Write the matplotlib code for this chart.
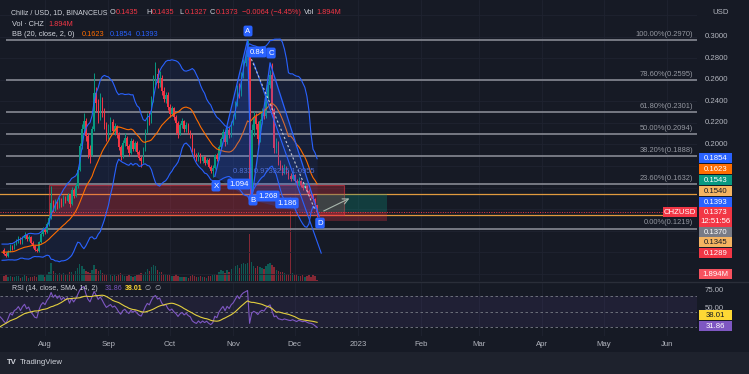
import numpy as np
import pandas as pd
import matplotlib
matplotlib.use("Agg")
import matplotlib.pyplot as plt
import matplotlib.dates as mdates
import matplotlib.transforms as mtrans
from matplotlib.patches import Rectangle, Polygon
from matplotlib.lines import Line2D

plt.rcParams['font.family'] = ['Liberation Sans', 'DejaVu Sans']

W, H = 749, 374
BG = '#161a25'
GREEN = '#089981'
RED = '#f23645'
BLUE = '#2962ff'
ORANGE = '#ff6d00'
TXT = '#d1d4dc'
GREY = '#b2b5be'

# ---- data (CHZ/USD daily, 2022-07-12 .. 2022-12-12) ----
# closes before the first visible candle, only used to warm up BB / RSI
warmup_close = [0.0981, 0.0953, 0.0972, 0.1008, 0.1041, 0.0993, 0.0962, 0.0931, 0.0948, 0.0979,
                0.1016, 0.1057, 0.1038, 0.0996, 0.0968, 0.0987, 0.1029, 0.1064, 0.1047, 0.1021]

close = [
    0.0985, 0.0962, 0.1004, 0.1052, 0.1031, 0.1078, 0.1093,
    0.1124, 0.1085, 0.1131, 0.1162, 0.1118, 0.1139, 0.1087,
    0.1058, 0.1021, 0.1012, 0.1096, 0.1168, 0.1209, 0.1187,
    0.1262, 0.1318, 0.1452, 0.1395, 0.1463, 0.1421, 0.1492,
    0.1438, 0.1506, 0.1472, 0.1528, 0.1451, 0.1579, 0.1524,
    0.1612, 0.1764, 0.1983, 0.2147, 0.2218, 0.2081, 0.1962,
    0.1903, 0.2142, 0.2481, 0.2383, 0.2262, 0.2414, 0.2312,
    0.2185, 0.2074, 0.2143, 0.2206, 0.2121, 0.2168, 0.2092,
    0.1975, 0.1893, 0.2012, 0.2064, 0.1982, 0.1924, 0.2031,
    0.1962, 0.2015, 0.1934, 0.1873, 0.1842, 0.1958, 0.2121,
    0.2253, 0.2214, 0.2412, 0.2587, 0.2655, 0.2568, 0.2621,
    0.2495, 0.2423, 0.2461, 0.2352, 0.2287, 0.2334, 0.2251,
    0.2198, 0.2106, 0.2178, 0.2215, 0.2142, 0.2183, 0.2117,
    0.2083, 0.1952, 0.1898, 0.1862, 0.1911, 0.1843, 0.1881,
    0.1832, 0.1856, 0.1794, 0.1752, 0.1783, 0.1898, 0.1862,
    0.1975, 0.2048, 0.2113, 0.2021, 0.2136, 0.2087, 0.2192,
    0.2254, 0.2378, 0.2521, 0.2462, 0.2643, 0.2752, 0.2812,
    0.2885, 0.1585, 0.2132, 0.2258, 0.2186, 0.2047, 0.2215,
    0.2308, 0.2264, 0.2431, 0.2552, 0.2641, 0.2318, 0.1965,
    0.2012, 0.1823, 0.1781, 0.1738, 0.1779, 0.1742, 0.1706,
    0.1683, 0.1712, 0.1664, 0.1621, 0.1658, 0.1627, 0.1596,
    0.1611, 0.1568, 0.1532, 0.1524, 0.1492, 0.1435, 0.1373,
]
high = [
    0.1034, 0.0998, 0.1017, 0.1071, 0.1068, 0.1089, 0.1121,
    0.1153, 0.1137, 0.1147, 0.1188, 0.1171, 0.1158, 0.1147,
    0.1099, 0.1066, 0.1043, 0.1108, 0.1183, 0.1234, 0.1226,
    0.1284, 0.1341, 0.1611, 0.1486, 0.1492, 0.1478, 0.1513,
    0.1507, 0.1531, 0.1524, 0.1552, 0.1537, 0.1604, 0.1597,
    0.1638, 0.1793, 0.2012, 0.2189, 0.2291, 0.2246, 0.2108,
    0.1998, 0.2173, 0.2662, 0.2537, 0.2419, 0.2476, 0.2438,
    0.2336, 0.2212, 0.2189, 0.2253, 0.2238, 0.2197, 0.2185,
    0.2114, 0.1998, 0.2041, 0.2109, 0.2081, 0.2003, 0.2058,
    0.2047, 0.2036, 0.2029, 0.1951, 0.1894, 0.1977, 0.2146,
    0.2289, 0.2307, 0.2446, 0.2641, 0.2768, 0.2712, 0.2679,
    0.2648, 0.2531, 0.2489, 0.2483, 0.2376, 0.2361, 0.2348,
    0.2274, 0.2213, 0.2196, 0.2241, 0.2228, 0.2204, 0.2196,
    0.2138, 0.2097, 0.1969, 0.1917, 0.1928, 0.1924, 0.1897,
    0.1893, 0.1878, 0.1871, 0.1812, 0.1806, 0.1914, 0.1921,
    0.1996, 0.2073, 0.2142, 0.2131, 0.2158, 0.2163, 0.2217,
    0.2283, 0.2406, 0.2553, 0.2574, 0.2672, 0.2791, 0.2857,
    0.2970, 0.2903, 0.2187, 0.2311, 0.2294, 0.2213, 0.2236,
    0.2337, 0.2341, 0.2467, 0.2589, 0.2693, 0.2758, 0.2341,
    0.2058, 0.2034, 0.1852, 0.1807, 0.1816, 0.1798, 0.1761,
    0.1732, 0.1738, 0.1729, 0.1681, 0.1693, 0.1672, 0.1644,
    0.1638, 0.1623, 0.1587, 0.1559, 0.1541, 0.1506, 0.1435,
]
low = [
    0.0971, 0.0951, 0.0958, 0.0998, 0.1019, 0.1025, 0.1066,
    0.1082, 0.1071, 0.1079, 0.1120, 0.1102, 0.1106, 0.1074,
    0.1041, 0.1008, 0.0997, 0.1004, 0.1088, 0.1152, 0.1169,
    0.1176, 0.1243, 0.1305, 0.1372, 0.1381, 0.1402, 0.1409,
    0.1419, 0.1427, 0.1455, 0.1461, 0.1423, 0.1442, 0.1506,
    0.1511, 0.1598, 0.1751, 0.1962, 0.2113, 0.2034, 0.1874,
    0.1826, 0.1889, 0.2121, 0.2312, 0.2198, 0.2231, 0.2254,
    0.2141, 0.2031, 0.2052, 0.2118, 0.2093, 0.2087, 0.2061,
    0.1951, 0.1856, 0.1877, 0.1988, 0.1953, 0.1897, 0.1911,
    0.1938, 0.1941, 0.1907, 0.1852, 0.1788, 0.1829, 0.1941,
    0.2102, 0.2183, 0.2196, 0.2391, 0.2553, 0.2527, 0.2534,
    0.2462, 0.2398, 0.2387, 0.2318, 0.2253, 0.2265, 0.2226,
    0.2093, 0.2058, 0.2087, 0.2152, 0.2117, 0.2119, 0.2098,
    0.2061, 0.1931, 0.1872, 0.1843, 0.1849, 0.1826, 0.1831,
    0.1812, 0.1819, 0.1778, 0.1731, 0.1702, 0.1769, 0.1848,
    0.1851, 0.1956, 0.2029, 0.1988, 0.2004, 0.2062, 0.2071,
    0.2176, 0.2237, 0.2356, 0.2431, 0.2448, 0.2621, 0.2731,
    0.2783, 0.1482, 0.1553, 0.2081, 0.2143, 0.1998, 0.2018,
    0.2187, 0.2232, 0.2243, 0.2408, 0.2521, 0.2283, 0.1922,
    0.1918, 0.1806, 0.1763, 0.1712, 0.1721, 0.1724, 0.1683,
    0.1658, 0.1669, 0.1647, 0.1603, 0.1611, 0.1606, 0.1578,
    0.1582, 0.1549, 0.1512, 0.1498, 0.1476, 0.1418, 0.1327,
]
# volume in millions of CHZ
volume = [
    18, 22, 15, 20, 14, 17, 21,
    19, 13, 16, 24, 18, 12, 15,
    17, 21, 14, 23, 26, 22, 17,
    28, 35, 70, 41, 30, 24, 33,
    27, 31, 22, 26, 34, 37, 25,
    38, 52, 66, 58, 47, 41, 36,
    33, 45, 62, 48, 39, 42, 31,
    28, 24, 27, 22, 19, 23, 21,
    29, 32, 25, 21, 18, 24, 20,
    17, 19, 22, 27, 30, 24, 34,
    48, 41, 55, 63, 58, 44, 37,
    35, 29, 26, 22, 25, 19, 21,
    27, 18, 15, 17, 14, 16, 13,
    18, 24, 21, 17, 15, 19, 14,
    16, 12, 18, 20, 25, 29, 22,
    36, 42, 38, 31, 44, 35, 47,
    52, 58, 61, 49, 66, 72, 68,
    70, 184, 74, 60, 52, 58, 55,
    50, 48, 58, 66, 70, 62, 53,
    44, 38, 34, 36, 30, 28, 26,
    274, 31, 23, 29, 21, 18, 24,
    17, 20, 22, 16, 25, 20, 2,
]

fib_ratio = [1.0, 0.786, 0.618, 0.5, 0.382, 0.236, 0.0]
fib_price = [0.2970, 0.2595, 0.2301, 0.2094, 0.1888, 0.1632, 0.1219]
orange_levels = [0.1540, 0.1345]
last_price = 0.1373

zone_dates = ['2022-08-03', '2022-12-25']
zone_prices = [0.1345, 0.1623]
pos_dates = ['2022-12-12', '2023-01-15']
pos_entry, pos_target, pos_stop = 0.1373, 0.1543, 0.1289

pat_names = ['X', 'A', 'B', 'C', 'D']
pat_dates = ['2022-10-23', '2022-11-08', '2022-11-10', '2022-11-19', '2022-12-13']
pat_price = [0.1702, 0.2970, 0.1482, 0.2758, 0.1330]
trend_dates = ['2022-11-11', '2022-12-14']
trend_price = [0.2756, 0.0991]
dash_dates = ['2022-11-09', '2022-12-11']
dash_price = [0.2830, 0.1390]
arrow_dates = ['2022-12-14', '2022-12-29']
arrow_price = [0.1371, 0.1510]

# ---- indicators ----
n_w = len(warmup_close)
all_dates = pd.date_range(end='2022-12-12', periods=n_w + len(close), freq='D')
cl = pd.Series(warmup_close + close, index=all_dates)
basis = cl.rolling(20).mean()
dev = cl.rolling(20).std(ddof=0)
upper = basis + 2 * dev
lower = basis - 2 * dev
delta = cl.diff()
gain = delta.clip(lower=0).ewm(alpha=1 / 14, adjust=False).mean()
loss = (-delta.clip(upper=0)).ewm(alpha=1 / 14, adjust=False).mean()
rsi = 100 - 100 / (1 + gain / loss)
rsi_ma = rsi.rolling(14).mean()

dates = all_dates[n_w:]
xd = mdates.date2num(dates)
xa = mdates.date2num(all_dates)
c = np.array(close)
o = cl.shift(1).values[n_w:]
hi = np.array(high)
lo = np.array(low)


def d2n(s):
    return mdates.date2num(pd.Timestamp(s))


def px_x(x):
    return x / W


def px_y(y):
    return 1 - y / H


# ---- figure / panes ----
fig = plt.figure(figsize=(W / 100, H / 100), dpi=100, facecolor=BG)
ax = fig.add_axes([0, px_y(281), 697 / W, 281 / H])
ax_v = ax.twinx()
ax_r = fig.add_axes([0, px_y(336), 697 / W, 53 / H], sharex=ax)
fig.add_artist(Rectangle((0, 0), 1, 22 / H, transform=fig.transFigure,
                         facecolor='#1e222d', edgecolor='none', zorder=-1))

aug1 = d2n('2022-08-01')
ppd = 2.046  # pixels per day
ax.set_xlim(aug1 - 45 / ppd, aug1 + 652 / ppd)
ax.set_ylim(0.0732, 0.3341)
ax_v.set_ylim(0, 1100)
ax_r.set_ylim(19.2, 86.3)

ax.set_zorder(2)
ax_v.set_zorder(1)
ax.patch.set_visible(False)
ax_v.patch.set_visible(False)
ax_r.set_facecolor(BG)
for a in (ax, ax_v, ax_r):
    for s in a.spines.values():
        s.set_visible(False)
ax_v.set_yticks([])
ax.set_yticks([])
ax_r.set_yticks([])

months = pd.date_range('2022-08-01', '2023-06-01', freq='MS')
mlabels = ['2023' if m.month == 1 else m.strftime('%b') for m in months]
ax_r.set_xticks(mdates.date2num(months))
ax_r.set_xticklabels(mlabels)
ax_r.tick_params(axis='x', length=0, colors=GREY, labelsize=5.6, pad=3.5)
ax.tick_params(axis='x', length=0, labelbottom=False)
for m in mdates.date2num(months):
    ax.axvline(m, color='#1f2330', lw=0.6, zorder=0)
    ax_r.axvline(m, color='#1f2330', lw=0.6, zorder=0)
for p in np.arange(0.08, 0.34, 0.02):
    ax.axhline(p, color='#1f2330', lw=0.6, zorder=0)

# volume
vcol = np.where(c >= o, GREEN, RED)
ax_v.bar(xd, volume, width=0.66, color=vcol, alpha=0.5, linewidth=0)

# bollinger bands
ax.fill_between(xa, upper, lower, color=BLUE, alpha=0.08, lw=0, zorder=1)
ax.plot(xa, upper, color=BLUE, lw=0.8, zorder=5)
ax.plot(xa, lower, color=BLUE, lw=0.8, zorder=5)
ax.plot(xa, basis, color=ORANGE, lw=0.8, zorder=5)

# fib retracement
xr = aug1 + 652 / ppd
ax.hlines(fib_price, d2n('2022-07-13'), xr, colors='#868993', lw=1.2, zorder=2)
for r, p in zip(fib_ratio, fib_price):
    ax.annotate(f'{r * 100:.2f}%({p:.4f})', (aug1 + 648 / ppd, p), xytext=(0, 1.5),
                textcoords='offset points', ha='right', va='bottom',
                color='#9598a1', fontsize=5.4, zorder=6)
for p in orange_levels:
    ax.axhline(p, color='#e09a3e', lw=0.9, zorder=2)

# zone and position tool
ax.add_patch(Rectangle((d2n(zone_dates[0]), zone_prices[0]), d2n(zone_dates[1]) - d2n(zone_dates[0]),
                       zone_prices[1] - zone_prices[0], facecolor=(0.95, 0.21, 0.27, 0.28),
                       edgecolor=(0.95, 0.21, 0.27, 0.55), lw=0.8, zorder=2.5))
pw = d2n(pos_dates[1]) - d2n(pos_dates[0])
ax.add_patch(Rectangle((d2n(pos_dates[0]), pos_entry), pw, pos_target - pos_entry,
                       facecolor=GREEN, alpha=0.28, lw=0, zorder=2.5))
ax.add_patch(Rectangle((d2n(pos_dates[0]), pos_stop), pw, pos_entry - pos_stop,
                       facecolor=RED, alpha=0.28, lw=0, zorder=2.5))

# candles
ccol = np.where(c >= o, GREEN, RED)
ax.vlines(xd, lo, hi, colors=ccol, lw=0.7, zorder=3)
ax.bar(xd, np.maximum(np.abs(c - o), 0.0006), bottom=np.minimum(o, c), width=0.66,
       color=ccol, linewidth=0, zorder=4)
ax.axhline(last_price, color=RED, lw=0.7, ls=(0, (1, 1.5)), zorder=6)

# XABCD pattern
px = [d2n(d) for d in pat_dates]
pts = list(zip(px, pat_price))
for tri in (pts[0:3], pts[2:5]):
    ax.add_patch(Polygon(tri, closed=True, facecolor=BLUE, alpha=0.2, edgecolor='none', zorder=5))
ax.plot(px, pat_price, color=BLUE, lw=0.9, zorder=6)
ax.plot([d2n(d) for d in trend_dates], trend_price, color=BLUE, lw=0.8, zorder=6)
ax.plot([d2n(d) for d in dash_dates], dash_price, color='#c3c6ce', lw=0.8, ls=(0, (2, 2)), zorder=6)
ax.annotate('', xy=(d2n(arrow_dates[1]), arrow_price[1]), xytext=(d2n(arrow_dates[0]), arrow_price[0]),
            arrowprops=dict(arrowstyle='->', color='#a9b8ad', lw=0.8), zorder=7)


def pos(xp, yp):
    return aug1 + (xp - 45) / ppd, 0.30 - (yp - 36.7) / 1077


box = dict(boxstyle='round,pad=0.25', fc=BLUE, ec='none')
for name, (xp, yp) in zip(pat_names, [(216, 186), (248, 31), (253, 200), (271, 53), (320, 223)]):
    ax.text(*pos(xp, yp), name, color='white', fontsize=5.6, ha='center', va='center', bbox=box, zorder=8)
for t, (xp, yp) in zip(['1.094', '1.268', '1.186', '0.84'], [(239, 184), (268, 196), (287, 203), (257, 52)]):
    ax.text(*pos(xp, yp), t, color='white', fontsize=5.6, ha='center', va='center', bbox=box, zorder=8)
ax.text(*pos(233, 171), '0.833 0.9733215 1.0955', color='#4f6fd6', fontsize=5.4, va='center', zorder=7)

# RSI pane
ax_r.axhspan(30, 70, color='#7e57c2', alpha=0.1, lw=0)
for lvl in (70, 50, 30):
    ax_r.axhline(lvl, color='#787b86', lw=0.6, ls=(0, (3, 3)))
ax_r.plot(xa, rsi, color='#7e57c2', lw=0.8)
ax_r.plot(xa, rsi_ma, color='#e3cf3f', lw=0.8)
fig.add_artist(Line2D([0, 1], [px_y(282), px_y(282)], color='#2a2e39', lw=1, transform=fig.transFigure))

# price scale
blend = mtrans.blended_transform_factory(ax.transAxes, ax.transData)
for p in np.arange(0.20, 0.3001, 0.02):
    ax.text(1 + 8 / 697, p, f'{p:.4f}', transform=blend, color=GREY, fontsize=5.6, va='center', clip_on=False)
fig.text(px_x(712), px_y(12), 'USD', color=GREY, fontsize=5.6, va='center')
fig.text(px_x(705), px_y(291), '75.00', color=GREY, fontsize=5.6, va='center')
fig.text(px_x(705), px_y(309), '50.00', color=GREY, fontsize=5.6, va='center')


def tag(text, y, bg, fg='white', x0=699, w=33, h=10):
    fig.add_artist(Rectangle((px_x(x0), px_y(y + h / 2)), w / W, h / H, transform=fig.transFigure,
                             facecolor=bg, edgecolor='none', zorder=5))
    fig.text(px_x(x0 + w / 2), px_y(y + 0.5), text, color=fg, fontsize=5.6, ha='center', va='center', zorder=6)


tag_text = ['0.1854', '0.1623', '0.1543', '0.1540', '0.1393', '0.1370', '0.1345', '0.1289', '1.894M', '38.01', '31.86']
tag_y = [158, 169, 180, 191, 202, 232, 242, 253, 274, 315, 326]
tag_bg = [BLUE, ORANGE, GREEN, '#f5b461', BLUE, '#787b86', '#f5b461', RED, '#f7525f', '#fdd835', '#7e57c2']
tag_fg = ['white', 'white', 'white', '#131722', 'white', 'white', '#131722', 'white', 'white', '#131722', 'white']
for t, y, b, f in zip(tag_text, tag_y, tag_bg, tag_fg):
    tag(t, y, b, f)
fig.add_artist(Rectangle((px_x(699), px_y(227)), 33 / W, 20 / H, transform=fig.transFigure,
                         facecolor=RED, edgecolor='none', zorder=5))
fig.text(px_x(715.5), px_y(212.5), '0.1373', color='white', fontsize=5.6, ha='center', va='center', zorder=6)
fig.text(px_x(715.5), px_y(221.5), '12:51:56', color='white', fontsize=5.6, ha='center', va='center', zorder=6)
fig.add_artist(Rectangle((px_x(663), px_y(217)), 34 / W, 10 / H, transform=fig.transFigure,
                         facecolor=RED, edgecolor='none', zorder=5))
fig.text(px_x(680), px_y(212.5), 'CHZUSD', color='white', fontsize=5.6, ha='center', va='center', zorder=6)


# legends
def ftxt(x, y, s, col=TXT, size=5.3, **kw):
    fig.text(px_x(x), px_y(y), s, color=col, fontsize=size, va='center', zorder=6, **kw)


ftxt(11, 13, 'Chiliz / USD, 1D, BINANCEUS', size=5.0)
for lab, val, x in zip(['O', 'H', 'L', 'C'], ['0.1435', '0.1435', '0.1327', '0.1373'], [110, 146, 179, 210]):
    ftxt(x, 13, lab)
    ftxt(x + 5.5, 13, val, RED)
ftxt(242, 13, '\u22120.0064 (\u22124.45%)', RED)
ftxt(304, 13, 'Vol')
ftxt(316, 13, '1.894M', RED)
ftxt(12, 24, 'Vol \u00b7 CHZ')
ftxt(48, 24, '1.894M', RED)
ftxt(12, 35, 'BB (20, close, 2, 0)')
ftxt(82, 35, '0.1623', ORANGE)
ftxt(110, 35, '0.1854', BLUE)
ftxt(136, 35, '0.1393', BLUE)
ftxt(12, 289, 'RSI (14, close, SMA, 14, 2)', size=5.0)
ftxt(105, 289, '31.86', '#7e57c2', size=5.0)
ftxt(125, 289, '38.01', '#fdd835', size=5.0, fontweight='bold')
ftxt(145, 289, '\u2205  \u2205', GREY, size=5.0)
ftxt(7, 362, 'TV', TXT, size=5.6, fontweight='bold')
ftxt(20, 362, 'TradingView', TXT, size=5.6)

fig.savefig('out.png', dpi=100, facecolor=BG)
